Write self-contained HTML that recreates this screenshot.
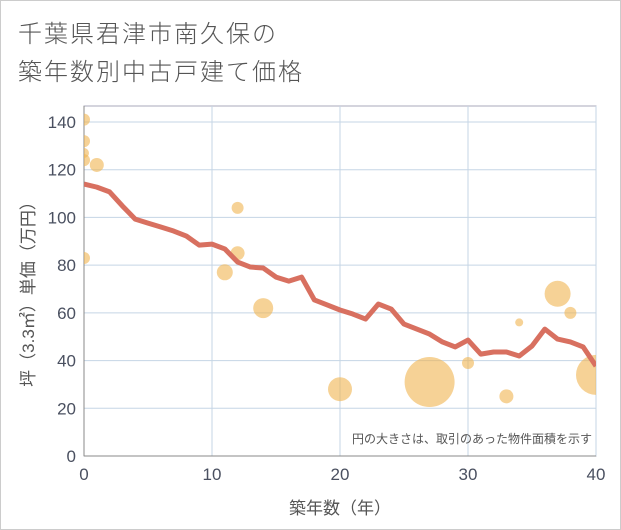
<!DOCTYPE html>
<html><head><meta charset="utf-8"><style>
body{margin:0;background:#fff;}
#wrap{position:relative;width:621px;height:530px;font-family:"Liberation Sans","Noto Sans CJK JP",sans-serif;}
.title{position:absolute;left:18px;font-size:24px;color:#555;letter-spacing:2px;font-weight:300;}
</style></head><body>
<div id="wrap">
<div class="title" style="top:14px">千葉県君津市南久保の</div>
<div class="title" style="top:52px">築年数別中古戸建て価格</div>
<svg id="svg" width="621" height="530" style="position:absolute;left:0;top:0"><defs><clipPath id="clip"><rect x="84" y="106" width="512" height="350"/></clipPath></defs></svg>
</div>
<script>
const xTicks=[0,10,20,30,40];
const yTicks=[0,20,40,60,80,100,120,140];
const trendAge=[0,1,2,3,4,5,6,7,8,9,10,11,12,13,14,15,16,17,18,19,20,21,22,23,24,25,26,27,28,29,30,31,32,33,34,35,36,37,38,39,40];
const trendPrice=[114,112.7,110.7,104.8,99.3,97.6,96,94.3,92.2,88.4,88.8,86.8,81.3,79.2,78.8,75,73.3,75,65.4,63.3,61.2,59.5,57.4,63.7,61.6,55.3,53.2,51.1,47.8,45.7,48.6,42.7,43.6,43.6,41.9,46.1,53.2,49,47.8,45.7,37.7];
const bubbleAge=[0,0,0,0,1,0,12,12,11,14,20,27,30,33,34,37,38,40];
const bubblePrice=[141,132,127,124,122,83,104,85,77,62,28,31,39,25,56,68,60,34];
const bubbleSize=[6,6,5,6,7,6,6,7,8,10,12,25,6,7,4,13,6,20];
const NS='http://www.w3.org/2000/svg';
const svg=document.getElementById('svg');
const X0=84,X1=596,Y0=456,Y1=106;
const xs=v=>X0+(X1-X0)*v/40;
const ys=v=>Y0-(Y0-122)*v/140;
function mk(t,a,p){const e=document.createElementNS(NS,t);for(const k in a)e.setAttribute(k,a[k]);(p||svg).appendChild(e);return e;}
const border=mk('rect',{x:0.5,y:0.5,width:620,height:529,fill:'none',stroke:'#ccc'});


const plot=mk('rect',{x:X0,y:Y1,width:X1-X0,height:Y0-Y1,fill:'#fff',stroke:'#aab'});


yTicks.forEach(v=>{
 const l=mk('line',{x1:X0,x2:X1,y1:ys(v),y2:ys(v),stroke:'#c5d5e5'});
 
 
 const t=mk('text',{x:X0-8,y:ys(v)+6,'text-anchor':'end','font-size':17,fill:'#4a5060'});
 t.textContent=v;
 
 
});
xTicks.forEach(v=>{
 const l=mk('line',{x1:xs(v),x2:xs(v),y1:Y1,y2:Y0,stroke:'#c5d5e5'});
 
 
 const t=mk('text',{x:xs(v),y:Y0+24,'text-anchor':'middle','font-size':17,fill:'#4a5060'});
 t.textContent=v;
 
 
});
const ax=mk('line',{x1:X0,x2:X0,y1:Y1,y2:Y0,stroke:'#888'});


const ax2=mk('line',{x1:X0,x2:X1,y1:Y0,y2:Y0,stroke:'#888'});


const g=mk('g',{'clip-path':'url(#clip)'});


bubbleAge.forEach((a,i)=>{
 const c=mk('circle',{cx:xs(a),cy:ys(bubblePrice[i]),r:bubbleSize[i],fill:'rgba(240,180,80,0.6)'},g);
 
 
});
const line=mk('polyline',{points:trendAge.map((a,i)=>xs(a)+','+ys(trendPrice[i])).join(' '),fill:'none',stroke:'#d87060',"stroke-width":5,"stroke-linejoin":'round'},g);


const note=mk('text',{x:592,y:443,'text-anchor':'end','font-size':12,fill:'#555'});
note.textContent='円の大きさは、取引のあった物件面積を示す';


const xt=mk('text',{x:340,y:514,'text-anchor':'middle','font-size':17,fill:'#555'});
xt.textContent='築年数（年）';


const yt=mk('text',{x:0,y:0,'text-anchor':'middle','font-size':17,fill:'#555',transform:'translate(34,290) rotate(-90)'});
yt.textContent='坪（3.3㎡）単価（万円）';


</script>
</body></html>
